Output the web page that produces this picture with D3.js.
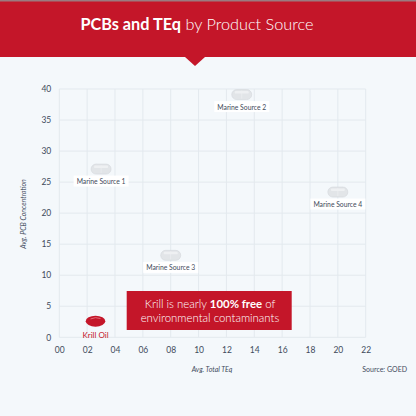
<!DOCTYPE html>
<html>
<head>
<meta charset="utf-8">
<script src="https://cdn.jsdelivr.net/npm/d3@7"></script>
<style>
  body { margin: 0; background: #f4f8fb; }
  svg { display: block; font-family: Lato, "Open Sans", sans-serif; }
</style>
</head>
<body>
<svg width="416" height="416"></svg>
<script>
// values
const sources = ['Marine Source 1', 'Marine Source 2', 'Marine Source 3', 'Marine Source 4', 'Krill Oil'];
const teq = [3.0, 13.1, 8.0, 20.0, 2.6];
const pcb = [27.1, 39.1, 13.2, 23.4, 2.6];
const xTicks = [0, 2, 4, 6, 8, 10, 12, 14, 16, 18, 20, 22];
const xTickLabels = ['00', '02', '04', '06', '08', '10', '12', '14', '16', '18', '20', '22'];
const yTicks = [0, 5, 10, 15, 20, 25, 30, 35, 40];

const red = '#c41629';
const ink = '#3f4b5b';

const svg = d3.select('svg');

// banner
svg.append('rect').attr('width', 416).attr('height', 57).attr('fill', red);
svg.append('rect').attr('width', 416).attr('height', 1.5).attr('fill', '#9b7a80');
svg.append('path').attr('d', 'M185,57 L205,57 L195,66 Z').attr('fill', red);

const title = svg.append('text')
  .attr('x', 197).attr('y', 30)
  .attr('text-anchor', 'middle')
  .attr('fill', '#fff')
  .attr('font-size', 16.3);
title.append('tspan').attr('font-weight', 700).text('PCBs and TEq');
title.append('tspan').attr('font-weight', 300).text(' by Product Source');

// scales
const x = d3.scaleLinear().domain([0, 22]).range([59.3, 365.7]);
const y = d3.scaleLinear().domain([0, 40]).range([337.3, 89]);

// grid
const grid = svg.append('g');
grid.selectAll('.vg').data(xTicks).join('line')
  .attr('x1', d => x(d)).attr('x2', d => x(d))
  .attr('y1', y(0)).attr('y2', y(40))
  .attr('stroke', '#e3e9ee').attr('stroke-width', 1);
grid.selectAll('.hg').data(yTicks).join('line')
  .attr('x1', x(0)).attr('x2', x(22))
  .attr('y1', d => y(d)).attr('y2', d => y(d))
  .attr('stroke', '#e3e9ee').attr('stroke-width', 1);

// axes, labels only
const xAxis = svg.append('g')
  .attr('transform', `translate(0, ${y(0)})`)
  .call(d3.axisBottom(x).tickValues(xTicks).tickSize(0).tickPadding(10)
    .tickFormat((d, i) => xTickLabels[i]));
const yAxis = svg.append('g')
  .attr('transform', `translate(${x(0)}, 0)`)
  .call(d3.axisLeft(y).tickValues(yTicks).tickSize(0).tickPadding(8));
[xAxis, yAxis].forEach(a => {
  a.select('.domain').remove();
  a.selectAll('text').attr('fill', ink).attr('font-size', 8.5).attr('font-family', 'Lato, sans-serif');
});

// axis titles
svg.append('text')
  .attr('transform', 'translate(26, 214) rotate(-90)')
  .attr('text-anchor', 'middle')
  .attr('font-size', 7).attr('font-style', 'italic')
  .attr('fill', ink).text('Avg. PCB Concentration');
svg.append('text')
  .attr('x', 212).attr('y', 372)
  .attr('text-anchor', 'middle')
  .attr('font-size', 7).attr('font-style', 'italic')
  .attr('fill', ink).text('Avg. Total TEq');
svg.append('text')
  .attr('x', 407).attr('y', 372)
  .attr('text-anchor', 'end')
  .attr('font-size', 7)
  .attr('fill', ink).text('Source: GOED');

// points
const pts = sources.map((s, i) => ({ name: s, tx: teq[i], py: pcb[i], krill: s === 'Krill Oil' }));

const marks = svg.append('g').selectAll('g').data(pts).join('g')
  .attr('transform', d => `translate(${x(d.tx)}, ${y(d.py)})`);

// marine capsules
marks.filter(d => !d.krill).each(function () {
  const g = d3.select(this);
  g.append('rect')
    .attr('x', -10).attr('y', -5).attr('width', 20).attr('height', 10).attr('rx', 5)
    .attr('fill', '#e2e5e8').attr('stroke', '#d3d7db').attr('stroke-width', 0.6);
  g.append('line').attr('x1', 0).attr('x2', 0).attr('y1', -4).attr('y2', 4)
    .attr('stroke', '#eceef0').attr('stroke-width', 0.8);
  g.append('rect')
    .attr('x', -7).attr('y', -3.5).attr('width', 14).attr('height', 2.5).attr('rx', 1.2)
    .attr('fill', '#eef0f2');
});

// krill softgel
marks.filter(d => d.krill).each(function () {
  const g = d3.select(this);
  g.append('ellipse').attr('rx', 9.8).attr('ry', 5.5).attr('fill', red);
  g.append('path').attr('d', 'M-5,-2.2 Q0,-4.6 5,-2.6')
    .attr('fill', 'none').attr('stroke', '#e9808b').attr('stroke-width', 0.8);
});

// labels
marks.each(function (d) {
  const g = d3.select(this);
  const lbl = g.append('text')
    .attr('y', d.krill ? 16.5 : 15)
    .attr('text-anchor', 'middle')
    .attr('font-size', d.krill ? 8 : 6.8)
    .attr('fill', d.krill ? red : ink)
    .text(d.name);
  if (!d.krill) {
    const bb = lbl.node().getBBox();
    g.insert('rect', 'text')
      .attr('x', bb.x - 3).attr('y', bb.y - 1.5)
      .attr('width', bb.width + 6).attr('height', bb.height + 3)
      .attr('fill', '#ffffff');
  }
});

// callout
svg.append('rect')
  .attr('x', 126.7).attr('y', 291).attr('width', 165).attr('height', 39)
  .attr('fill', red);

// first line is laid out piece by piece so the bold part sits between the light parts
const parts = [
  { t: 'Krill is nearly ', w: 300 },
  { t: '100% free', w: 700 },
  { t: ' of', w: 300 }
];
const line1 = svg.append('g');
const pieces = parts.map(p => line1.append('text')
  .attr('y', 308.3).attr('fill', '#fff').attr('font-size', 11.4)
  .attr('font-weight', p.w).attr('xml:space', 'preserve')
  .style('white-space', 'pre').text(p.t));
const widths = pieces.map(s => s.node().getComputedTextLength());
let cx = 210 - d3.sum(widths) / 2;
pieces.forEach((s, i) => { s.attr('x', cx); cx += widths[i]; });

svg.append('text')
  .attr('x', 210).attr('y', 322)
  .attr('text-anchor', 'middle').attr('fill', '#fff').attr('font-size', 11.4)
  .attr('font-weight', 300).text('environmental contaminants');
</script>
</body>
</html>
